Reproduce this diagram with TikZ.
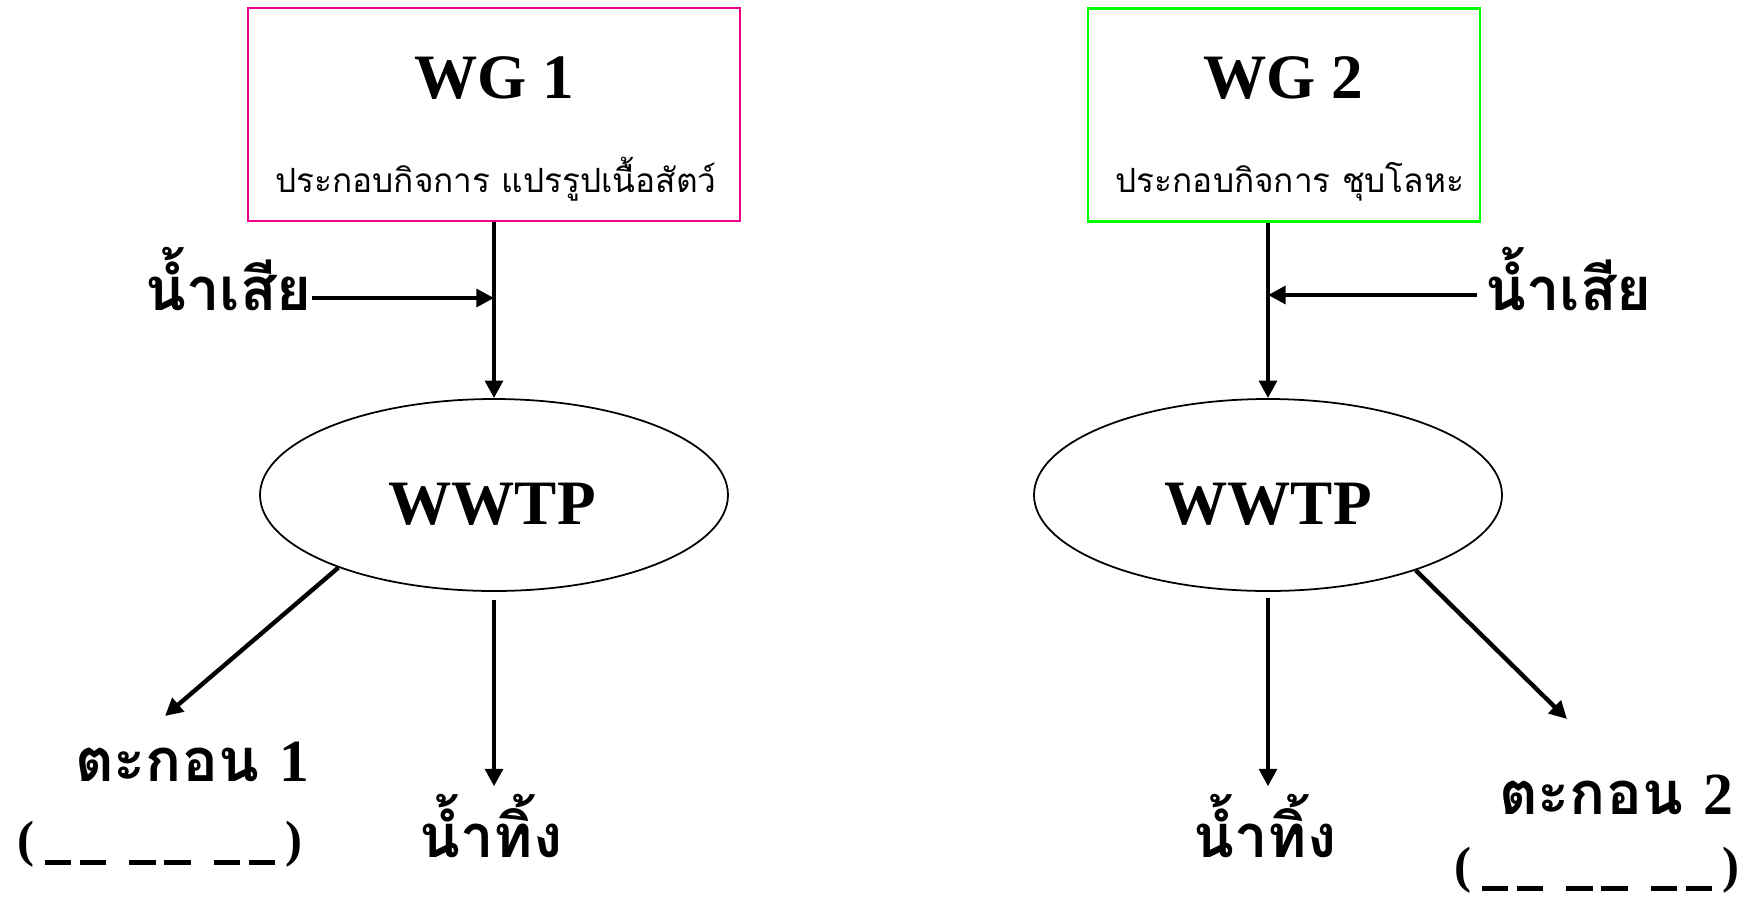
\documentclass[tikz,border=0pt]{standalone}
\usepackage{fontspec}
\setmainfont{Liberation Serif}
\newfontfamily\thaifont[Script=Thai]{Loma}
\usetikzlibrary{arrows.meta,shapes.geometric}

\newcommand\blankbar{\rule[-5pt]{15pt}{2.8pt}}
\newcommand\blankline{(\kern6pt\blankbar\kern5pt\blankbar\kern13pt\blankbar\kern5pt\blankbar\kern13pt\blankbar\kern5pt\blankbar\kern6pt)}

\tikzset{
  WG box/.style={draw=#1, line width=1.2pt, minimum height=213*0.02cm},
  WW plant/.style={draw, ellipse, line width=1pt, minimum width=468*0.02cm, minimum height=192*0.02cm},
  WW flow/.style={line width=2.5pt, -{Triangle[length=10pt, width=10pt]}},
  WW title/.style={font=\bfseries\fontsize{36}{36}\selectfont, inner sep=0pt},
  WW sub/.style={font=\thaifont\fontsize{19}{19}\selectfont, inner sep=0pt},
  WW big/.style={font=\thaifont\bfseries\fontsize{34}{34}\selectfont, inner sep=0pt},
  WW blank/.style={font=\bfseries\fontsize{29}{29}\selectfont, inner sep=0pt}
}

\begin{document}
\begin{tikzpicture}[x=0.02cm, y=-0.02cm]
\useasboundingbox (0,0) rectangle (1749,897);

% left group
\node[WG box=magenta, minimum width=492*0.02cm] (wg1) at (494,114.5) {};
\node[WW title, anchor=base] (wg1t) at (494,98) {WG 1};
\node[WW sub, anchor=base] (wg1s) at (496,192) {ประกอบกิจการ แปรรูปเนื้อสัตว์};
\node[WW plant] (wwtp1) at (494,495) {};
\node[WW title, anchor=base] (wwtp1t) at (492,524) {WWTP};
\node[WW big, anchor=base east] (ws1) at (312,310) {น้ำเสีย};
\node[WW big, anchor=base] (sed1) at (192,781) {ตะกอน {\rmfamily 1}};
\node[WW blank, anchor=base] (sed1b) at (160,856) {\blankline};
\node[WW big, anchor=base] (out1) at (491,857) {น้ำทิ้ง};

% right group
\node[WG box=green, minimum width=392*0.02cm] (wg2) at (1284,115) {};
\node[WW title, anchor=base] (wg2t) at (1283,98) {WG 2};
\node[WW sub, anchor=base] (wg2s) at (1290,192) {ประกอบกิจการ ชุบโลหะ};
\node[WW plant] (wwtp2) at (1268,495) {};
\node[WW title, anchor=base] (wwtp2t) at (1268,524) {WWTP};
\node[WW big, anchor=base west] (ws2) at (1485,310) {น้ำเสีย};
\node[WW big, anchor=base] (sed2) at (1616,814) {ตะกอน {\rmfamily 2}};
\node[WW blank, anchor=base] (sed2b) at (1597,882) {\blankline};
\node[WW big, anchor=base] (out2) at (1265,857) {น้ำทิ้ง};

\coordinate (in1) at (494,298);
\coordinate (in2) at (1268,295);
\coordinate (s1) at (165,716);
\coordinate (s2) at (1567,719);

% connectors
\draw[WW flow] (wg1.south) -- (wwtp1.north);
\draw[WW flow] (ws1.east |- in1) -- (in1);
\draw[WW flow] (wwtp1.205.8) -- (s1);
\draw[WW flow] ([yshift=-8*0.02cm]wwtp1.south) -- ([yshift=7*0.02cm]wwtp1.south |- out1.north);

\draw[WW flow] (wg2.south -| wwtp2.north) -- (wwtp2.north);
\draw[WW flow] ([xshift=-8*0.02cm]ws2.west |- in2) -- (in2);
\draw[WW flow] (wwtp2.333.7) -- (s2);
\draw[WW flow] ([yshift=-6*0.02cm]wwtp2.south) -- ([yshift=7*0.02cm]wwtp2.south |- out2.north);
\end{tikzpicture}
\end{document}
